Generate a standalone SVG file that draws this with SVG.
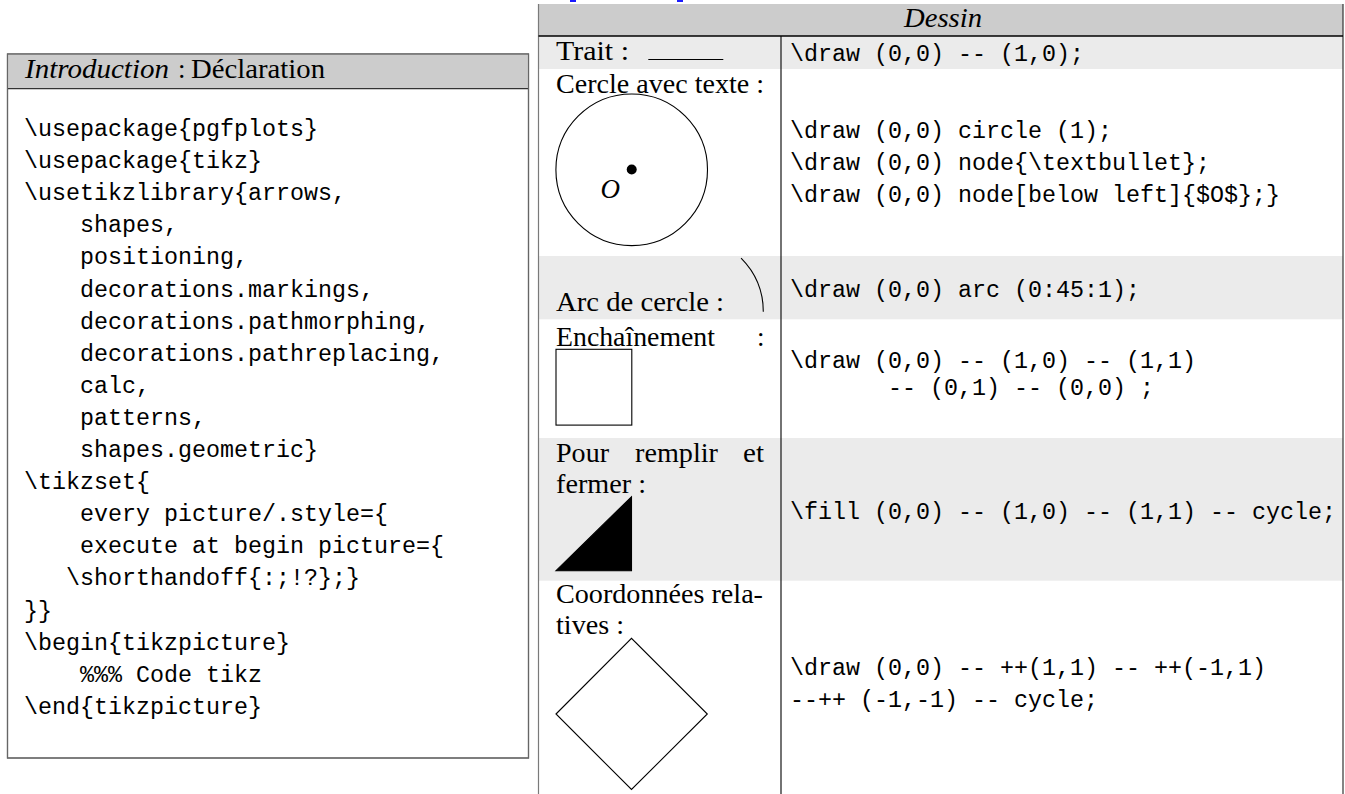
<svg xmlns="http://www.w3.org/2000/svg" width="1345" height="794" viewBox="0 0 1345 794">
<style>
.serif{font-family:"Liberation Serif","Times New Roman",serif;font-size:27px;fill:#000}
.it{font-style:italic}
.mono{font-family:"Liberation Mono","Courier New",monospace;font-size:23.33px;fill:#000;white-space:pre}
.hdr{fill:#cccccc}
.band{fill:#ebebeb}
.ln{stroke:#000;stroke-width:1.1;fill:none}
</style>
<rect width="1345" height="794" fill="#ffffff"/>
<g id="link-fragments" fill="#1a1aff">
<rect x="570" y="0" width="6" height="2"/>
<rect x="677" y="0" width="6" height="2"/>
</g>
<g id="intro-box">
<rect x="7.5" y="54" width="521" height="704" fill="#ffffff" stroke="#666" stroke-width="1.2"/>
<rect class="hdr" x="8.1" y="54.6" width="519.8" height="34"/>
<line x1="7.5" y1="88.6" x2="528.5" y2="88.6" stroke="#333" stroke-width="1.2"/>
<rect x="7.5" y="54" width="521" height="704" fill="none" stroke="#666" stroke-width="1.2"/>
<text class="serif it" x="25" y="78" textLength="144" lengthAdjust="spacingAndGlyphs">Introduction</text>
<text class="serif" x="178" y="78">:</text>
<text class="serif" x="191" y="78" textLength="134" lengthAdjust="spacingAndGlyphs">Déclaration</text>
<text class="mono" x="24" y="136">\usepackage{pgfplots}</text>
<text class="mono" x="24" y="168.1">\usepackage{tikz}</text>
<text class="mono" x="24" y="200.2">\usetikzlibrary{arrows,</text>
<text class="mono" x="80" y="232.3">shapes,</text>
<text class="mono" x="80" y="264.4">positioning,</text>
<text class="mono" x="80" y="296.5">decorations.markings,</text>
<text class="mono" x="80" y="328.6">decorations.pathmorphing,</text>
<text class="mono" x="80" y="360.7">decorations.pathreplacing,</text>
<text class="mono" x="80" y="392.8">calc,</text>
<text class="mono" x="80" y="424.9">patterns,</text>
<text class="mono" x="80" y="457">shapes.geometric}</text>
<text class="mono" x="24" y="489.1">\tikzset{</text>
<text class="mono" x="80" y="521.2">every picture/.style={</text>
<text class="mono" x="80" y="553.3">execute at begin picture={</text>
<text class="mono" x="66" y="585.4">\shorthandoff{:;!?};}</text>
<text class="mono" x="24" y="617.5">}}</text>
<text class="mono" x="24" y="649.6">\begin{tikzpicture}</text>
<text class="mono" x="80" y="681.7">%%% Code tikz</text>
<text class="mono" x="24" y="713.8">\end{tikzpicture}</text>
</g>
<g id="table-backgrounds">
<rect class="hdr" x="538.5" y="4" width="804.5" height="32"/>
<rect class="band" x="538.5" y="36" width="804.5" height="33"/>
<rect class="band" x="538.5" y="256" width="804.5" height="63.3"/>
<rect class="band" x="538.5" y="438" width="804.5" height="142.7"/>
</g>
<g id="table-grid">
<line x1="538.5" y1="4" x2="538.5" y2="794" stroke="#7a7a7a" stroke-width="1.2"/>
<line x1="1343" y1="4" x2="1343" y2="794" stroke="#333" stroke-width="1.2"/>
<line x1="538.5" y1="36" x2="1343" y2="36" stroke="#000" stroke-width="1.3"/>
<line x1="781" y1="36" x2="781" y2="794" stroke="#000" stroke-width="1.1"/>
</g>
<g id="header-dessin">
<text class="serif it" x="904" y="27" textLength="78" lengthAdjust="spacingAndGlyphs">Dessin</text>
</g>
<g id="row-trait">
<text class="serif" x="556" y="60" textLength="73" lengthAdjust="spacingAndGlyphs">Trait :</text>
<line class="ln" x1="648.3" y1="59.5" x2="723.3" y2="59.5"/>
<text class="mono" x="790" y="61">\draw (0,0) -- (1,0);</text>
</g>
<g id="row-cercle">
<text class="serif" x="556" y="92.5" textLength="208" lengthAdjust="spacingAndGlyphs">Cercle avec texte :</text>
<circle class="ln" cx="631.7" cy="169.8" r="75.8"/>
<circle cx="631.7" cy="169.5" r="5" fill="#000"/>
<text class="serif it" x="600.5" y="198">O</text>
<text class="mono" x="790" y="138">\draw (0,0) circle (1);</text>
<text class="mono" x="790" y="170">\draw (0,0) node{\textbullet};</text>
<text class="mono" x="790" y="202">\draw (0,0) node[below left]{$O$};}</text>
</g>
<g id="row-arc">
<text class="serif" x="556" y="310.7" textLength="168" lengthAdjust="spacingAndGlyphs">Arc de cercle :</text>
<path class="ln" d="M763.3,311.7 A75.9,75.9 0 0 0 741.07,258.03"/>
<text class="mono" x="790" y="297">\draw (0,0) arc (0:45:1);</text>
</g>
<g id="row-enchainement">
<text class="serif" x="556" y="346" textLength="159" lengthAdjust="spacingAndGlyphs">Enchaînement</text>
<text class="serif" x="757" y="346">:</text>
<rect class="ln" x="556" y="349.3" width="75.8" height="75.8"/>
<text class="mono" x="790" y="368">\draw (0,0) -- (1,0) -- (1,1)</text>
<text class="mono" x="888" y="395">-- (0,1) -- (0,0) ;</text>
</g>
<g id="row-remplir">
<text class="serif" x="556" y="461.7" textLength="53" lengthAdjust="spacingAndGlyphs">Pour</text>
<text class="serif" x="635" y="461.7" textLength="83" lengthAdjust="spacingAndGlyphs">remplir</text>
<text class="serif" x="743" y="461.7" textLength="21" lengthAdjust="spacingAndGlyphs">et</text>
<text class="serif" x="556" y="492.7" textLength="90" lengthAdjust="spacingAndGlyphs">fermer :</text>
<polygon points="556,570.7 631.5,570.7 631.5,496.7" fill="#000" stroke="#000" stroke-width="1.1"/>
<text class="mono" x="790" y="519">\fill (0,0) -- (1,0) -- (1,1) -- cycle;</text>
</g>
<g id="row-relatives">
<text class="serif" x="556" y="603.3" textLength="207" lengthAdjust="spacingAndGlyphs">Coordonnées rela-</text>
<text class="serif" x="556" y="634" textLength="68" lengthAdjust="spacingAndGlyphs">tives :</text>
<polygon class="ln" points="556,714 631.5,638.3 707.3,714 631.5,789.5"/>
<text class="mono" x="790" y="675">\draw (0,0) -- ++(1,1) -- ++(-1,1)</text>
<text class="mono" x="790" y="707">--++ (-1,-1) -- cycle;</text>
</g>
</svg>
